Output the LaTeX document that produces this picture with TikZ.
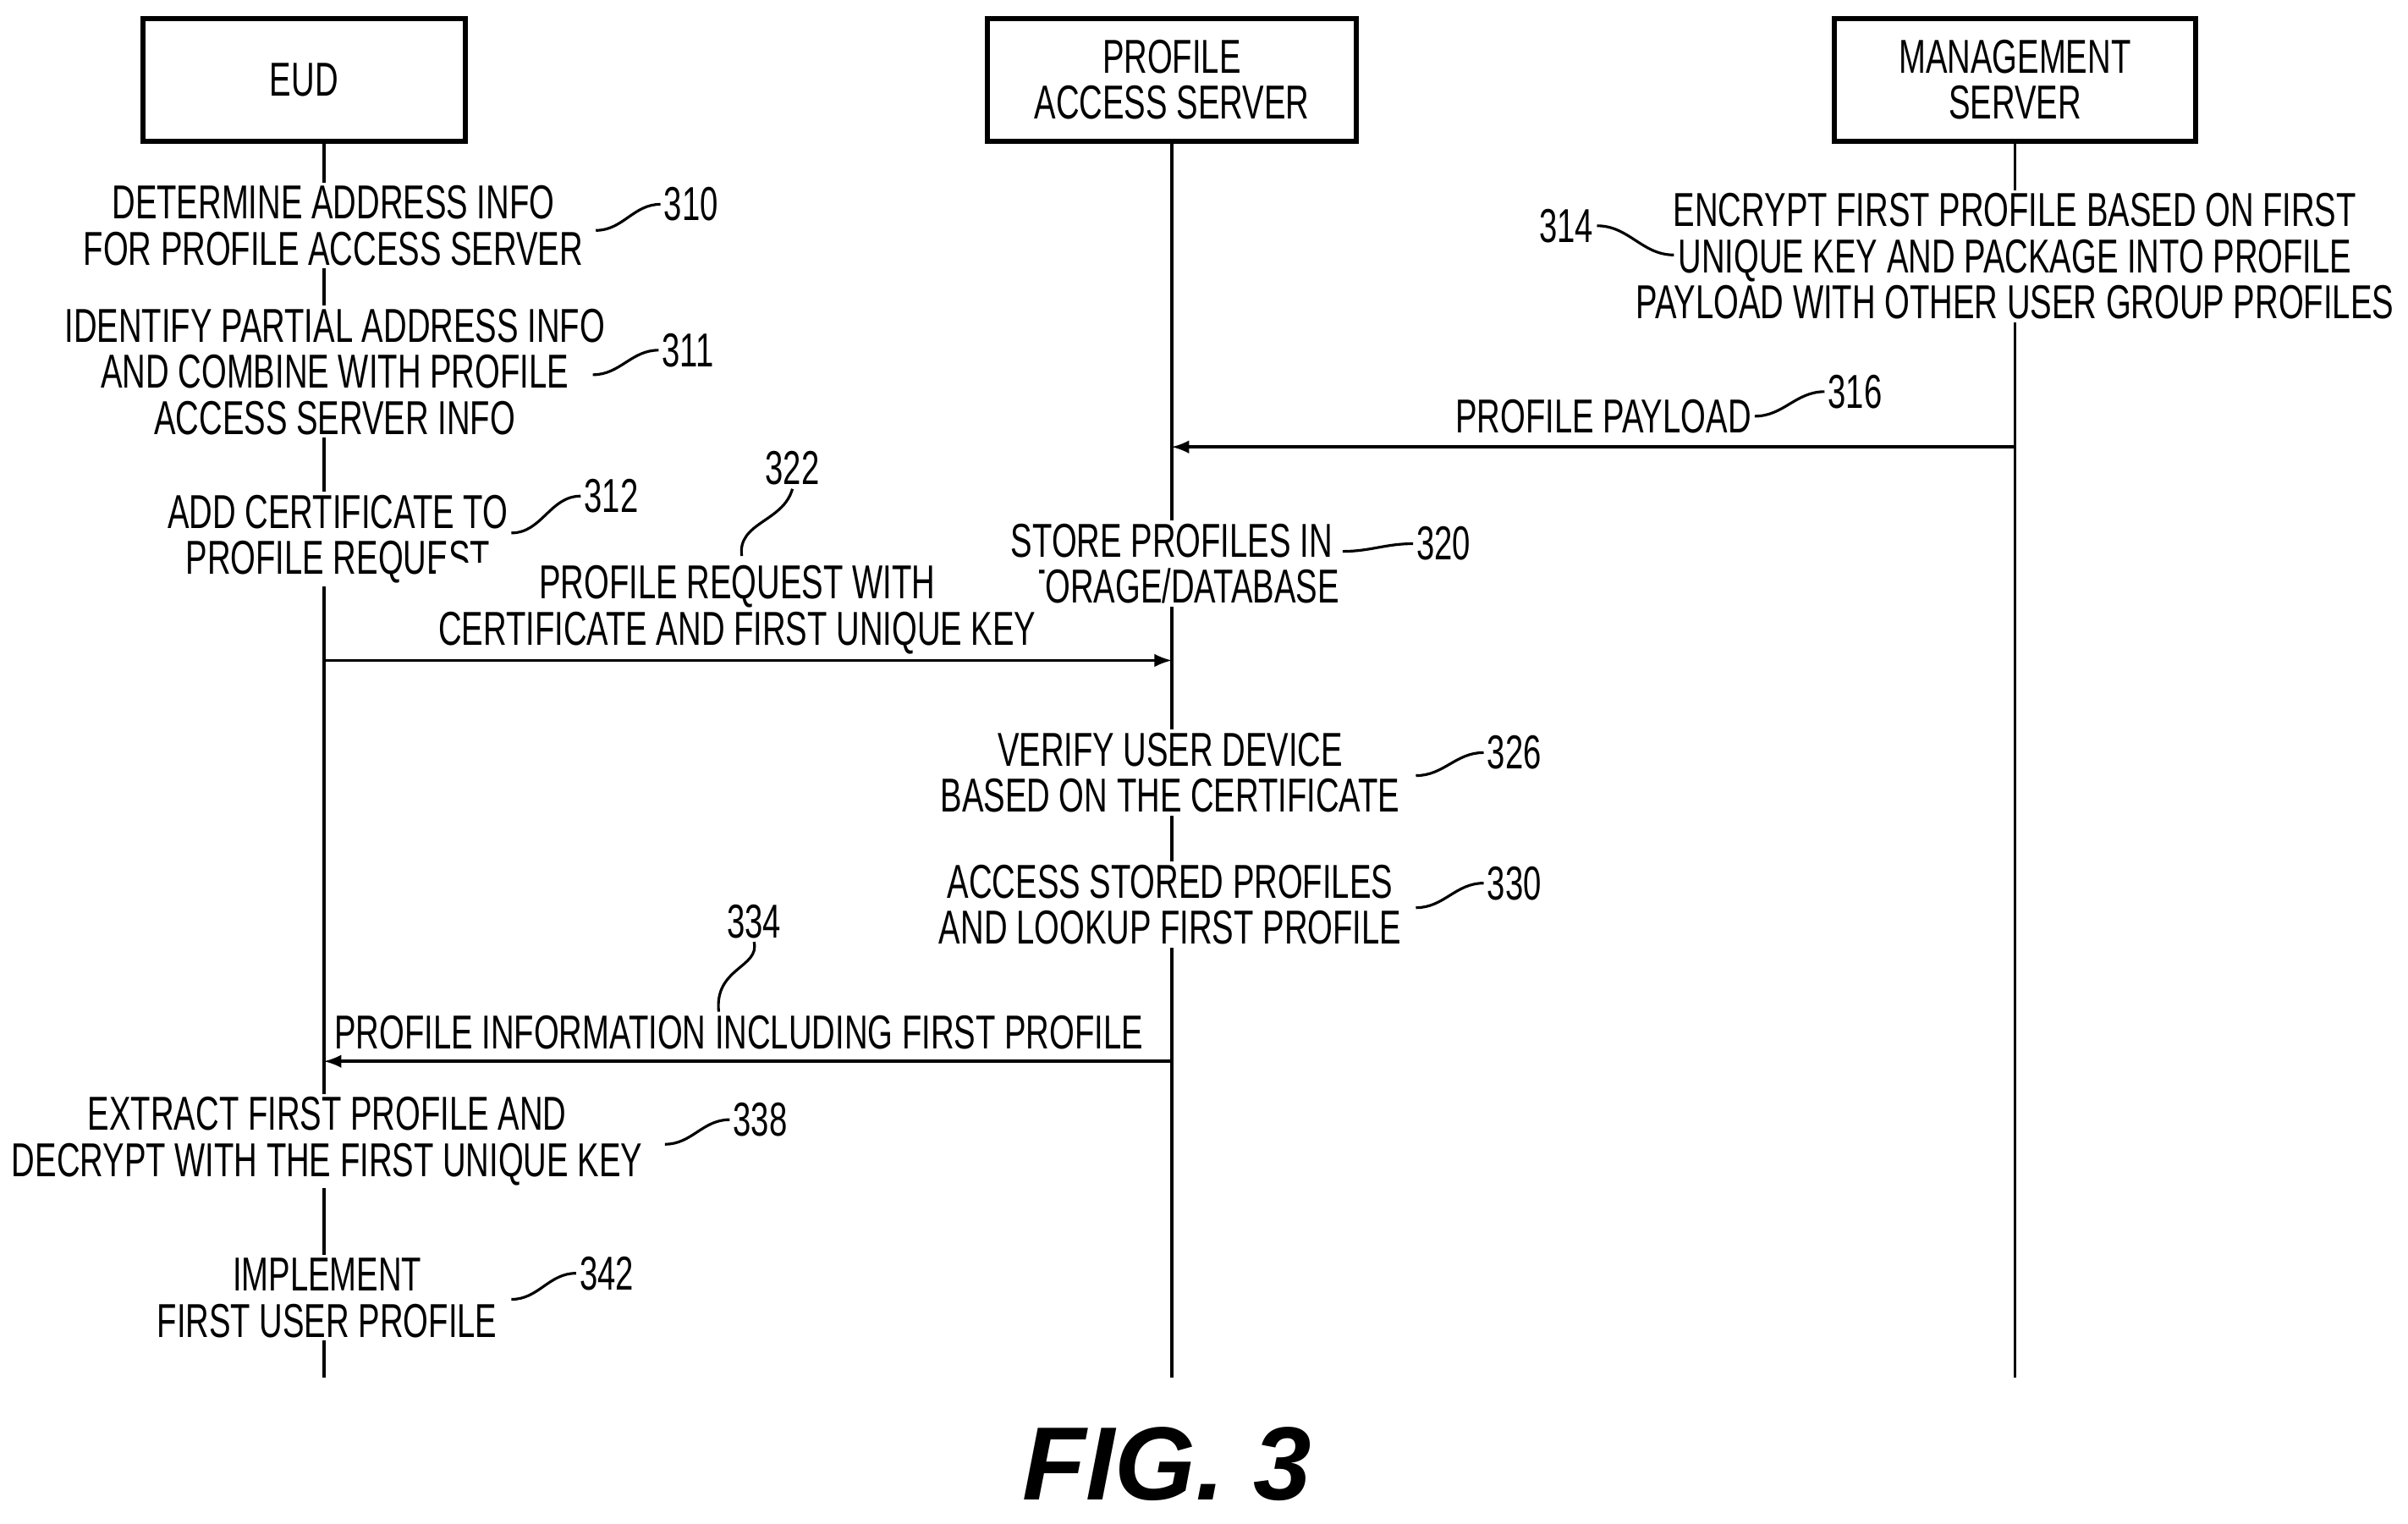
\documentclass[tikz,border=0pt]{standalone}
\usepackage{fontspec}
\setmainfont{Liberation Sans}[FakeStretch=0.68]
\newfontfamily\figfont{Liberation Sans}
\usetikzlibrary{positioning}

\tikzset{
	actor/.style = {draw, line width=1.6pt, minimum height=1.45cm, align=center, font=\fontsize{16}{15.5}\selectfont},
	act/.style = {align=center, fill=white, font=\fontsize{16}{15.5}\selectfont, inner sep=1pt},
	ref/.style = {font=\fontsize{16}{15.5}\selectfont, inner sep=1pt},
	lead/.style = {line width=0.9pt, out=0, in=180},
	life/.style = {line width=1pt},
	msg/.style = {line width=1pt, -latex}
}

\begin{document}
\begin{tikzpicture}[x=0.01815cm, y=-0.01815cm]
	\useasboundingbox (0,0) rectangle (1568,992);
	
	% actors
	\node[actor, minimum width=3.81cm] (eud) at (198,52) {EUD};
	\node[actor, minimum width=4.36cm] (pas) at (763,52) {PROFILE\\ACCESS SERVER};
	\node[actor, minimum width=4.27cm] (ms) at (1312,52) {MANAGEMENT\\SERVER};
	
	\coordinate (eudEnd) at (211,897);
	\coordinate (pasEnd) at (763,897);
	\coordinate (msEnd) at (1312,897);
	\draw[life] (eud.south -| eudEnd) -- (eudEnd);
	\draw[life] (pas.south) -- (pasEnd);
	\draw[life] (ms.south -| msEnd) -- (msEnd);
	
	% EUD steps
	\node[act] (s310) at (217,147) {DETERMINE ADDRESS INFO\\FOR PROFILE ACCESS SERVER};
	\node[ref] (n310) at (450,133) {310};
	\draw[lead] (388,150) to (n310.west);
	
	\node[act] (s311) at (218,242) {IDENTIFY PARTIAL ADDRESS INFO\\AND COMBINE WITH PROFILE\\ACCESS SERVER INFO};
	\node[ref] (n311) at (448,228) {311};
	\draw[lead] (386,244) to (n311.west);
	
	\node[act] (s312) at (220,351) {ADD CERTIFICATE TO\\PROFILE REQUEST};
	\node[ref] (n312) at (398,323) {312};
	\draw[lead] (333,347) to (n312.west);
	
	% management server
	\node[act] (s314) at (1312,167) {ENCRYPT FIRST PROFILE BASED ON FIRST\\UNIQUE KEY AND PACKAGE INTO PROFILE\\PAYLOAD WITH OTHER USER GROUP PROFILES};
	\node[ref] (n314) at (1020,147) {314};
	\draw[lead] (n314.east) to (1090,166);
	
	\node[act] (m316) at (1044,271) {PROFILE PAYLOAD};
	\node[ref] (n316) at (1208,255) {316};
	\draw[lead] (m316.east) to (n316.west);
	\draw[msg] (1312,291) -- (763,291);
	
	\node[act] (s320) at (763,367) {STORE PROFILES IN\\STORAGE/DATABASE};
	\node[ref] (n320) at (940,354) {320};
	\draw[lead] (s320.east) ++(0,-8) to (n320.west);
	
	% request
	\node[act] (m322) at (480,397) {PROFILE REQUEST WITH\\CERTIFICATE AND FIRST UNIQUE KEY};
	\node[ref] (n322) at (516,305) {322};
	\draw[line width=0.9pt] (483,362) .. controls (480,340) and (510,340) .. (n322.south);
	\draw[msg] (211,430) -- (763,430);
	
	\node[act] (s326) at (762,503) {VERIFY USER DEVICE\\BASED ON THE CERTIFICATE};
	\node[ref] (n326) at (986,490) {326};
	\draw[lead] (922,505) to (n326.west);
	
	\node[act] (s330) at (762,589) {ACCESS STORED PROFILES\\AND LOOKUP FIRST PROFILE};
	\node[ref] (n330) at (986,575) {330};
	\draw[lead] (922,591) to (n330.west);
	
	% response
	\node[act] (m334) at (481,672) {PROFILE INFORMATION INCLUDING FIRST PROFILE};
	\node[ref] (n334) at (491,600) {334};
	\draw[line width=0.9pt] (n334.south) .. controls (495,630) and (465,630) .. (m334.north -| 468,0);
	\draw[msg] (763,691) -- (211,691);
	
	\node[act] (s338) at (213,743) {EXTRACT FIRST PROFILE AND\\DECRYPT WITH THE FIRST UNIQUE KEY};
	\node[ref] (n338) at (495,729) {338};
	\draw[lead] (433,745) to (n338.west);
	
	\node[act] (s342) at (213,845) {IMPLEMENT\\FIRST USER PROFILE};
	\node[ref] (n342) at (395,829) {342};
	\draw[lead] (333,846) to (n342.west);
	
	\node (fig) at (760,953) {\figfont\fontsize{35}{37}\selectfont\bfseries\itshape FIG. 3};
\end{tikzpicture}
\end{document}
